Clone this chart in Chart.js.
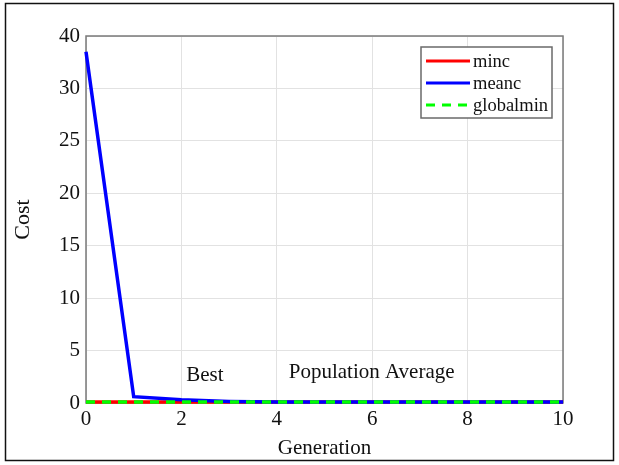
<!DOCTYPE html>
<html>
<head>
<meta charset="utf-8">
<script src="https://cdn.jsdelivr.net/npm/chart.js@4.4.1/dist/chart.umd.min.js"></script>
<style>
  html, body { margin: 0; padding: 0; background: #fff; }
  #wrap { width: 619px; height: 465px; position: relative; }
</style>
</head>
<body>
<div id="wrap"><canvas id="costChart" width="619" height="465"></canvas></div>
<script>
const generations = [0, 1, 2, 3, 4, 5, 6, 7, 8, 9, 10];
const minc = [0.1, 0.1, 0.1, 0.1, 0.1, 0.1, 0.1, 0.1, 0.1, 0.1, 0.1];
const meanc = [33.5, 0.6, 0.3, 0.15, 0.1, 0.1, 0.1, 0.1, 0.1, 0.1, 0.1];
const globalmin = [0.1, 0.1, 0.1, 0.1, 0.1, 0.1, 0.1, 0.1, 0.1, 0.1, 0.1];
const yTicks = [0, 5, 10, 15, 20, 25, 30, 35];
const yTickLabels = ['0', '5', '10', '15', '20', '25', '30', '40'];
const xTicks = [0, 2, 4, 6, 8, 10];
const notes = [
    { text: 'Best', x: 2.1, y: 2.1 },
    { text: 'Population Average', x: 4.25, y: 2.4 }
];

const serif = '"Liberation Serif", "Times New Roman", serif';

const toPts = arr => arr.map((v, i) => ({ x: generations[i], y: v }));

const framePlugin = {
    id: 'frame',
    beforeDraw(chart) {
        const { ctx } = chart;
        ctx.save();
        ctx.fillStyle = '#fff';
        ctx.fillRect(0, 0, chart.width, chart.height);
        ctx.restore();
    },
    beforeDatasetsDraw(chart) {
        const { ctx, chartArea: a } = chart;
        ctx.save();
        // plot box, under the lines
        ctx.strokeStyle = '#7a7a7a';
        ctx.lineWidth = 1.5;
        ctx.strokeRect(a.left, a.top, a.right - a.left, a.bottom - a.top);
        ctx.restore();
    },
    afterDraw(chart) {
        const { ctx, scales } = chart;
        ctx.save();
        // outer frame
        ctx.strokeStyle = '#111';
        ctx.lineWidth = 1.5;
        ctx.strokeRect(5.5, 3.5, 608, 457);

        // annotations
        ctx.fillStyle = '#111';
        ctx.font = '21px ' + serif;
        ctx.textBaseline = 'alphabetic';
        notes.forEach(n => {
            ctx.fillText(n.text, scales.x.getPixelForValue(n.x), scales.y.getPixelForValue(n.y));
        });

        // legend
        const lx = 421, ly = 47, lw = 131, lh = 71;
        ctx.fillStyle = '#fff';
        ctx.fillRect(lx, ly, lw, lh);
        ctx.strokeStyle = '#6a6a6a';
        ctx.lineWidth = 1.5;
        ctx.strokeRect(lx, ly, lw, lh);
        ctx.font = '18.5px ' + serif;
        ctx.textBaseline = 'middle';
        chart.data.datasets.forEach((ds, i) => {
            const yy = ly + 14 + i * 22;
            ctx.beginPath();
            ctx.strokeStyle = ds.borderColor;
            ctx.lineWidth = 3;
            ctx.setLineDash(ds.borderDash || []);
            ctx.moveTo(lx + 5, yy);
            ctx.lineTo(lx + 49, yy);
            ctx.stroke();
            ctx.setLineDash([]);
            ctx.fillStyle = '#111';
            ctx.fillText(ds.label, lx + 52, yy + 1);
        });
        ctx.restore();
    }
};

new Chart(document.getElementById('costChart'), {
    type: 'line',
    data: {
        datasets: [
            { label: 'minc', data: toPts(minc), borderColor: '#ff0000', borderWidth: 3.5, pointRadius: 0, tension: 0, clip: 6, order: 3 },
            { label: 'meanc', data: toPts(meanc), borderColor: '#0000ff', borderWidth: 3.5, pointRadius: 0, tension: 0, clip: 6, order: 2 },
            { label: 'globalmin', data: toPts(globalmin), borderColor: '#00ff00', borderWidth: 3.5, borderDash: [9, 7], pointRadius: 0, tension: 0, clip: 6, order: 1 }
        ]
    },
    options: {
        responsive: false,
        animation: false,
        layout: { padding: { left: 0, top: 36, right: 56, bottom: 0 } },
        plugins: {
            legend: { display: false },
            tooltip: { enabled: false }
        },
        scales: {
            x: {
                type: 'linear',
                min: 0,
                max: 10,
                afterBuildTicks: s => { s.ticks = xTicks.map(v => ({ value: v })); },
                afterFit: s => { s.height = 62; },
                grid: { color: '#e2e2e2', drawTicks: false },
                border: { display: false },
                ticks: { color: '#111', padding: 4, font: { family: serif, size: 21 }, maxRotation: 0 },
                title: { display: true, text: 'Generation', color: '#111', padding: { top: 0 }, font: { family: serif, size: 21 } }
            },
            y: {
                type: 'linear',
                min: 0,
                max: 35,
                afterBuildTicks: s => { s.ticks = yTicks.map(v => ({ value: v })); },
                afterFit: s => { s.width = 86; },
                grid: { color: '#e2e2e2', drawTicks: false },
                border: { display: false },
                ticks: {
                    color: '#111',
                    padding: 6,
                    font: { family: serif, size: 21 },
                    callback: v => yTickLabels[yTicks.indexOf(v)]
                },
                title: { display: true, text: 'Cost', color: '#111', padding: { top: 10, bottom: 4 }, font: { family: serif, size: 22 } }
            }
        }
    },
    plugins: [framePlugin]
});
</script>
</body>
</html>
